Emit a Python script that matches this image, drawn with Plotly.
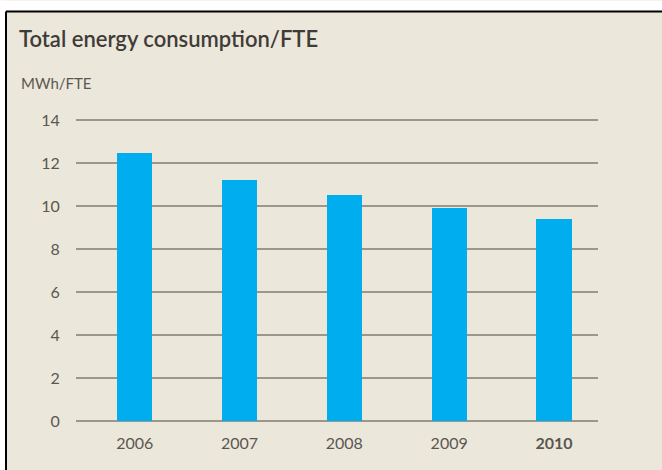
import plotly.graph_objects as go

# data
years = ["2006", "2007", "2008", "2009", "2010"]
tick_labels = ["2006", "2007", "2008", "2009", "<b>2010</b>"]
mwh_per_fte = [12.5, 11.2, 10.5, 9.9, 9.4]
y_ticks = [0, 2, 4, 6, 8, 10, 12, 14]

W, H = 662, 470
y_top = 14.2
L, R, B = 76, 598, 421            # plot area in pixels
T = B - y_top * (B - 120) / 14    # so that the 14 gridline lands at y=120


def px_x(x):
    return (x - L) / (R - L)


def px_y(y):
    return (B - y) / (B - T)


bg = "#ECE7DB"
txt = "#5A5751"
grid = "#9C978B"

fig = go.Figure()
fig.add_trace(go.Bar(x=years, y=mwh_per_fte, marker=dict(color="#00AEEF", line=dict(width=0)),
                     width=0.335))

fig.update_layout(
    width=W, height=H,
    margin=dict(l=L, r=W - R, t=T, b=H - B, pad=0),
    paper_bgcolor=bg, plot_bgcolor=bg,
    showlegend=False,
    font=dict(family="Lato, Open Sans, sans-serif", color=txt, size=15),
    bargap=0,
)
fig.update_xaxes(range=[-0.56, 4.42], tickvals=years, ticktext=tick_labels,
                 showgrid=False, zeroline=False, showline=False,
                 ticks="outside", ticklen=8, tickcolor="rgba(0,0,0,0)",
                 tickfont=dict(size=16, color=txt))
fig.update_yaxes(range=[0, y_top], tickvals=y_ticks, showgrid=True, gridcolor=grid, gridwidth=1.5,
                 zeroline=True, zerolinecolor=grid, zerolinewidth=1.5, showline=False,
                 ticks="outside", ticklen=12, tickcolor="rgba(0,0,0,0)",
                 tickfont=dict(size=16, color=txt))

fig.add_annotation(text="Total energy consumption/FTE", xref="paper", yref="paper",
                   x=px_x(17), y=px_y(38), xanchor="left", yanchor="middle", showarrow=False,
                   font=dict(size=22, color="#3F3C38", family="Lato, Open Sans, sans-serif", weight=600))
fig.add_annotation(text="MWh/FTE", xref="paper", yref="paper",
                   x=px_x(19), y=px_y(83), xanchor="left", yanchor="middle", showarrow=False,
                   font=dict(size=15, color=txt))

# white outer strip and the black frame on top/left
fig.add_shape(type="rect", xref="paper", yref="paper", x0=px_x(0), x1=px_x(W), y0=px_y(0), y1=px_y(11),
              fillcolor="white", line=dict(width=0), layer="above")
fig.add_shape(type="rect", xref="paper", yref="paper", x0=px_x(0), x1=px_x(6), y0=px_y(0), y1=px_y(H),
              fillcolor="white", line=dict(width=0), layer="above")
fig.add_shape(type="line", xref="paper", yref="paper", x0=px_x(6), x1=px_x(W), y0=px_y(11), y1=px_y(11),
              line=dict(color="black", width=2), layer="above")
fig.add_shape(type="line", xref="paper", yref="paper", x0=px_x(6), x1=px_x(6), y0=px_y(11), y1=px_y(H),
              line=dict(color="black", width=2), layer="above")

fig.write_html("out.html", config={"displayModeBar": False},
               post_script="document.body.style.margin='0';document.body.style.overflow='hidden';")
